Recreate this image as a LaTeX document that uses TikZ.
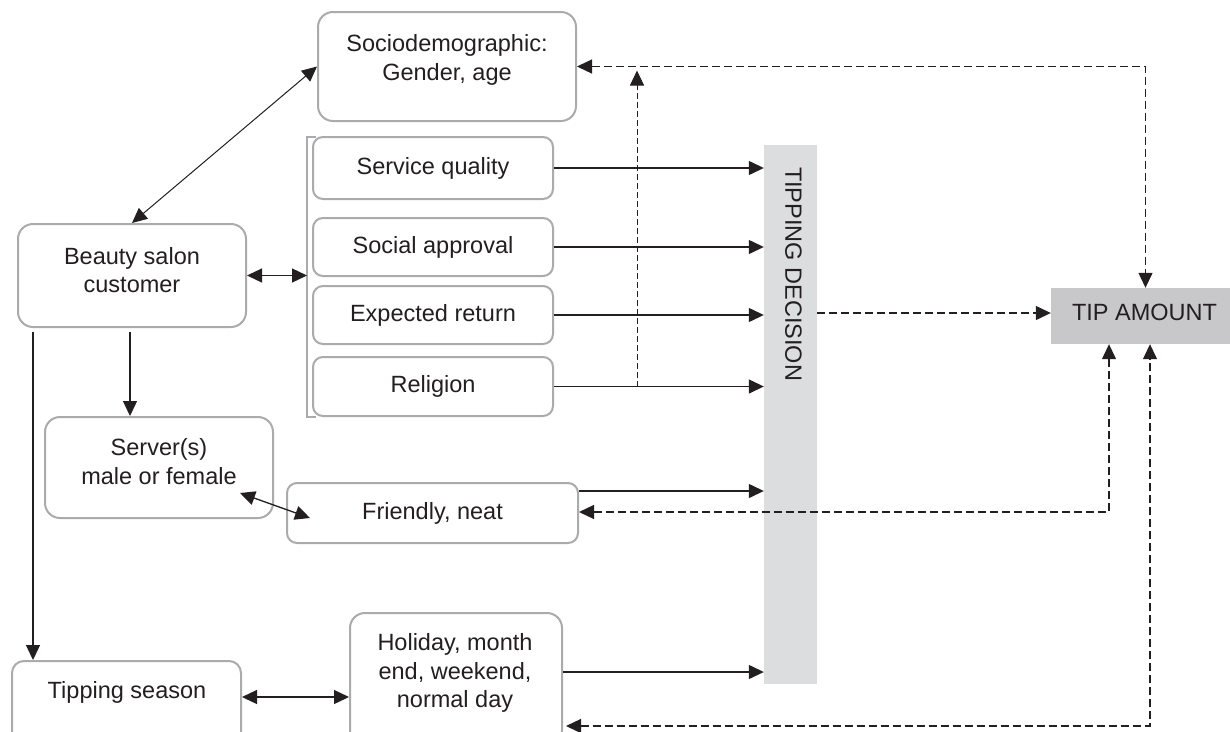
\documentclass[tikz,border=0pt]{standalone}
\usepackage{fontspec}
\setmainfont{Liberation Sans}
\usetikzlibrary{arrows.meta,calc}
\definecolor{ink}{HTML}{231F20}
\definecolor{boxline}{HTML}{ABABAE}
\definecolor{barfill}{HTML}{DCDDDF}
\definecolor{amountfill}{HTML}{C8C8CA}
\begin{document}
\begin{tikzpicture}[x=1pt,y=-1pt,
  >={Triangle[length=15pt,width=14pt]},
  every node/.style={font=\fontsize{23.5}{28.5}\selectfont, text=ink},
  box/.style={draw=boxline, line width=2pt, rounded corners=#1, inner sep=0pt, fill=white},
  box/.default=10pt,
  plainbox/.style={draw=none, inner sep=0pt},
  link/.style={draw=ink, line width=1.3pt},
  dsh/.style={draw=ink, line width=1.3pt, dash pattern=on 8pt off 4pt},
  fine dsh/.style={draw=ink, line width=1pt, dash pattern=on 6pt off 3pt}]

\useasboundingbox (0,0) rectangle (1230,731);

% boxes on the left
\node[box=15pt, minimum width=258pt, minimum height=109pt] (socio) at (447,66.5) {};
\node (socioT) at (447,59.8) [align=center] {Sociodemographic:\\Gender, age};

\node[box=15pt, minimum width=228pt, minimum height=103pt] (cust) at (132,275.5) {};
\node (custT) at (132,270.3) [align=center] {Beauty salon\\customer};

\node[box, minimum width=240pt, minimum height=62pt] (sq) at (433,168) {Service quality};
\node[box, minimum width=240pt, minimum height=58pt] (sa) at (433,247) {Social approval};
\node[box, minimum width=240pt, minimum height=58pt] (er) at (433,315) {Expected return};
\node[box, minimum width=240pt, minimum height=59pt] (rel) at (433,386.5) {Religion};

\node[box=15pt, minimum width=228pt, minimum height=101pt] (serv) at (159,467.5) {};
\node (servT) at (159,461.8) [align=center] {Server(s)\\male or female};

\node[box, minimum width=291pt, minimum height=60pt] (friend) at (432.5,513) {Friendly, neat};

\node[box=12pt, minimum width=229pt, minimum height=84pt] (season) at (126.5,703) {};
\node (seasonT) at (127,692.3) {Tipping season};

\node[box=15pt, minimum width=212pt, minimum height=132pt] (hol) at (456,679) {};
\node (holT) at (455,673.3) [align=center] {Holiday, month\\end, weekend,\\normal day};

% bracket grouping the four motives
\coordinate (brkTop) at (316,137);
\coordinate (brkBot) at (316,417);
\coordinate (brk) at (307,276);
\draw[boxline, line width=2pt] (brkTop) -- (brkTop -| brk) -- (brkBot -| brk) -- (brkBot);

% decision bar and tip amount
\node[plainbox, fill=barfill, minimum width=53pt, minimum height=539pt] (bar) at (790.5,414.5) {};
\node[rotate=-90, anchor=west, inner sep=0pt] (barT) at ([shift={(3,22)}]bar.north) {TIPPING DECISION};

\node[plainbox, fill=amountfill, minimum width=189pt, minimum height=56pt] (amount) at (1145.5,316) {};
\node (amountT) at (1144.5,312) {TIP AMOUNT};

% solid connectors
\draw[link, line width=1pt, <->] (cust.north) -- (socio.west);
\draw[link, <->] (cust.east) -- (cust.east -| brk);

\coordinate (c1) at ([shift={(16,4)}]cust.south west);
\draw[link, ->] (c1) -- (c1 |- season.north);
\coordinate (c2) at ([shift={(-2,4)}]cust.south);
\draw[link, ->] (c2) -- (c2 |- serv.north);

\draw[link, <->] ([shift={(-34,25.5)}]serv.east) -- ([shift={(24,5)}]friend.west);

\coordinate (c3) at ([shift={(0,-6)}]season.east);
\draw[link, <->] (c3) -- (c3 -| hol.west);

\foreach \n in {sq,sa,er,rel}
  \draw[link, ->] (\n.east) -- (\n.east -| bar.west);

\coordinate (c4) at ([shift={(0,-22)}]friend.east);
\draw[link, ->] (c4) -- (c4 -| bar.west);
\coordinate (c5) at ([shift={(0,-7)}]hol.east);
\draw[link, ->] (c5) -- (c5 -| bar.west);

% dashed feedback connectors
\coordinate (c6) at ([shift={(0,-3)}]amount.west);
\draw[dsh, ->] (c6 -| bar.east) -- (c6);

\draw[dsh, <->] (socio.east) -| (amount.north);

\coordinate (c7) at ([shift={(83,0)}]rel.east);
\coordinate (c8) at (c7 |- socio.east);
\draw[fine dsh, ->] (c7) -- ([shift={(0,4)}]c8);

\coordinate (c9) at ([shift={(0,-1)}]friend.east);
\coordinate (c10) at ([shift={(-36.5,0)}]amount.south);
\draw[dsh, <->] (c9) -| (c10);

\coordinate (c11) at ([shift={(3,47)}]hol.east);
\coordinate (c12) at ([shift={(4.5,0)}]amount.south);
\draw[dsh, <->] (c11) -| (c12);
\end{tikzpicture}
\end{document}
